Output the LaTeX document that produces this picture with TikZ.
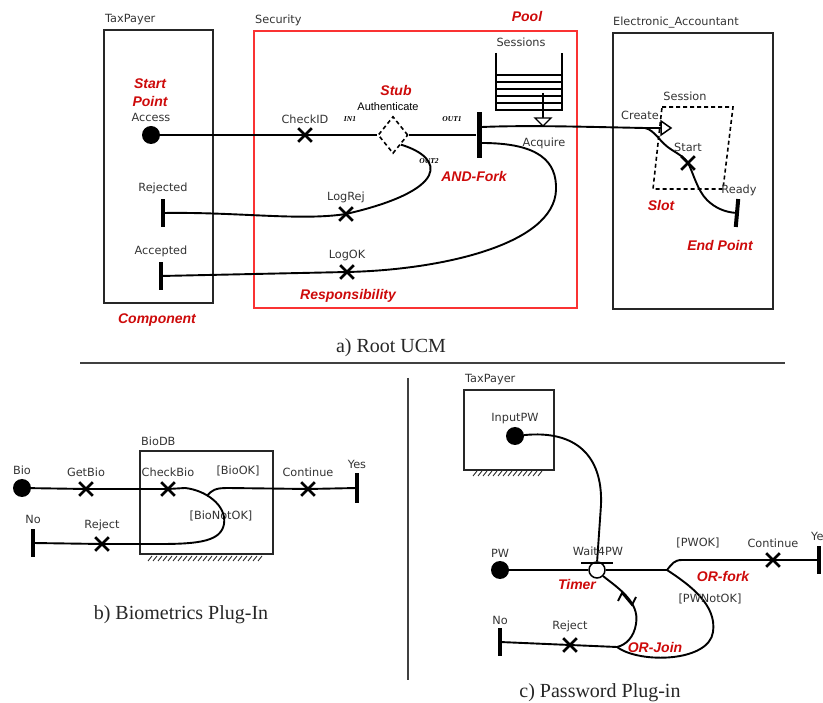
\documentclass[tikz,border=0pt]{standalone}
\usepackage{fontspec}
\setmainfont{DejaVu Sans}
\newfontfamily\tagfont{Liberation Sans}
\newfontfamily\capfont{Liberation Serif}
\usetikzlibrary{positioning,shapes.geometric,shapes.misc}
\definecolor{ucmred}{RGB}{205,10,10}
\definecolor{poolred}{RGB}{250,50,50}

\begin{document}
\begin{tikzpicture}[x=1pt,y=-1pt,
  lbl/.style={font=\fontsize{11.3}{12}\selectfont, text=black!80, inner sep=1pt},
  tag/.style={font=\tagfont\bfseries\itshape\fontsize{14}{18}\selectfont, text=ucmred, inner sep=1pt},
  pin/.style={font=\capfont\bfseries\itshape\fontsize{7.5}{8}\selectfont, inner sep=1pt},
  captext/.style={font=\capfont\fontsize{20}{22}\selectfont, text=black!85},
  comp/.style={draw=black!85, line width=1.7pt},
  ucm/.style={line width=1.9pt},
  startpt/.style={circle, fill, minimum size=18pt, inner sep=0pt},
  endbar/.style={fill, minimum width=4pt, minimum height=28pt, inner sep=0pt},
  resp/.style={cross out, draw, line width=2.7pt, minimum size=11pt, inner sep=0pt},
  dashline/.style={dash pattern=on 4pt off 3pt, line width=1.6pt},
  hatch/.style={line width=0.9pt, black!80}]
  \useasboundingbox (0,0) rectangle (823,703);

  % a) root map: components
  \draw[comp] (104,30) rectangle (213,303);
  \node[lbl, anchor=west] (taxpayerA) at (104,20) {TaxPayer};
  \draw[poolred, line width=1.7pt] (254,31) rectangle (577,308);
  \node[lbl, anchor=west] (security) at (254,20) {Security};
  \draw[comp] (613,33) rectangle (773,309);
  \node[lbl, anchor=west] (eacc) at (612,23) {Electronic\_Accountant};
  \node[tag] (pooltag) at (527,16) {Pool};

  % pool of sessions
  \draw[line width=1.6pt] (496,53) -- (496,110) -- (562,110) -- (562,53);
  \foreach \y in {75,82,89,96,103}
    \draw[line width=1.5pt] (496,\y) -- (562,\y);
  \node[lbl] (sessions) at (521,42) {Sessions};

  % slot
  \draw[dashline] (662,107) -- (733,107) -- (723,189) -- (653,189) -- cycle;
  \node[lbl] (session) at (685,96) {Session};

  % a) path elements
  \node[startpt] (access) at (151,135) {};
  \node[resp] (checkid) at (305,135) {};
  \node[diamond, draw, dashline, minimum width=30pt, minimum height=37pt, inner sep=0pt] (stub) at (393,135) {};
  \node[endbar, minimum width=5pt, minimum height=46pt] (andfork) at (479,135) {};
  \node[resp] (logrej) at (346,214) {};
  \node[endbar] (rejected) at (163,213) {};
  \node[resp] (logok) at (347,272) {};
  \node[endbar] (accepted) at (161,276) {};
  \node[resp] (startr) at (688,163) {};
  \node[endbar, rotate=-5] (ready) at (737,213) {};
  \coordinate (slotin) at (645,128);
  \coordinate (create) at (661,128);

  \draw[ucm] (access) -- (checkid.center) -- (stub.west);
  \draw[ucm] (stub.east) -- (andfork.west);
  \draw[ucm] (stub.south east) .. controls (445,158) and (450,190) .. (logrej.center)
    .. controls (300,221) and (240,212) .. (rejected);
  \draw[ucm] ([yshift=-8pt]andfork.east) .. controls (540,143) and (557,162) .. (556,190)
    .. controls (554,245) and (440,270) .. (logok.center) -- (accepted);
  \draw[ucm] ([yshift=8pt]andfork.east) .. controls (530,125) and (590,127) .. (slotin) -- (create);
  \draw[ucm] (slotin) .. controls (655,130) and (660,143) .. (672,150)
    .. controls (680,155) and (685,158) .. (startr.center)
    .. controls (693,172) and (697,190) .. (707,200)
    .. controls (715,208) and (725,212) .. (ready);
  \draw[line width=1.5pt, fill=white] (create) ++(0,-7) -- ++(10,7) -- ++(-10,7) -- cycle;
  \draw[line width=1.4pt] (543,93) -- (543,118);
  \draw[line width=1.4pt, fill=white] (535,118) -- (551,118) -- (543,126) -- cycle;

  % a) labels
  \node[tag, align=center] (starttag) at (150,93) {Start\\Point};
  \node[lbl, above=3pt of access] (accessl) {Access};
  \node[lbl, above=3pt of checkid] (checkidl) {CheckID};
  \node[pin] (in1) at (350,119) {IN1};
  \node[pin] (out1) at (452,119) {OUT1};
  \node[pin] (out2) at (429,161) {OUT2};
  \node[tag] (stubtag) at (396,90) {Stub};
  \node[font=\tagfont\fontsize{11}{12}\selectfont, inner sep=1pt] (authl) at (388,107) {Authenticate};
  \node[tag] (forktag) at (474,176) {AND-Fork};
  \node[lbl] (acquire) at (544,143) {Acquire};
  \node[lbl] (createl) at (640,115) {Create};
  \node[lbl, above=3pt of startr] (startl) {Start};
  \node[lbl] (readyl) at (739,190) {Ready};
  \node[tag] (slottag) at (661,205) {Slot};
  \node[tag] (endtag) at (720,246) {End Point};
  \node[lbl, above=4pt of rejected] (rejectedl) {Rejected};
  \node[lbl, above=3pt of logrej] (logrejl) {LogRej};
  \node[lbl, above=4pt of accepted] (acceptedl) {Accepted};
  \node[lbl, above=3pt of logok] (logokl) {LogOK};
  \node[tag] (resptag) at (348,296) {Responsibility};
  \node[tag] (comptag) at (157,320) {Component};
  \node[captext] (capa) at (391,348) {a) Root UCM};

  % separators
  \draw[black!75, line width=1.5pt] (80,363) -- (785,363);
  \draw[black!75, line width=1.3pt] (408,378) -- (408,680);

  % b) biometrics plug-in
  \draw[comp] (140,451) rectangle (273,554);
  \foreach \x in {148,153,...,258}
    \draw[hatch] (\x,561) -- (\x+4,556);
  \node[lbl, anchor=west] (biodb) at (140,441) {BioDB};
  \node[startpt] (bio) at (22,488) {};
  \node[resp] (getbio) at (86,489) {};
  \node[resp] (checkbio) at (168,489) {};
  \node[resp] (contb) at (308,489) {};
  \node[endbar, minimum height=30pt] (yesb) at (357,488) {};
  \node[resp] (rejb) at (102,544) {};
  \node[endbar] (nob) at (33,543) {};
  \coordinate (forkb) at (207,496);
  \node[lbl] (bionotok) at (221,516) {[BioNotOK]};
  \draw[ucm] (bio) -- (getbio.center) -- (checkbio.center) -- (185,488)
    .. controls (205,490) and (227,505) .. (224,524)
    .. controls (221,541) and (200,544) .. (160,544) -- (rejb.center) -- (nob);
  \draw[ucm] (forkb) .. controls (212,490) and (215,488) .. (228,488) -- (contb.center) -- (yesb);
  \node[lbl, above=3pt of bio] (biol) {Bio};
  \node[lbl, above=4pt of getbio] (getbiol) {GetBio};
  \node[lbl, above=4pt of checkbio] (checkbiol) {CheckBio};
  \node[lbl] (biook) at (238,471) {[BioOK]};
  \node[lbl, above=4pt of contb] (contbl) {Continue};
  \node[lbl, above=3pt of yesb] (yesbl) {Yes};
  \node[lbl, above=4pt of nob] (nobl) {No};
  \node[lbl, above=5pt of rejb] (rejbl) {Reject};
  \node[captext] (capb) at (181,615) {b) Biometrics Plug-In};

  % c) password plug-in
  \draw[comp] (464,390) rectangle (554,470);
  \foreach \x in {473,478,...,538}
    \draw[hatch] (\x,476) -- (\x+4,471);
  \node[lbl, anchor=west] (taxpayerC) at (464,380) {TaxPayer};
  \node[startpt] (inputpw) at (515,436) {};
  \node[startpt] (pw) at (500,570) {};
  \node[circle, draw, fill=white, line width=1.5pt, minimum size=16pt, inner sep=0pt] (timer) at (597,570) {};
  \node[endbar, minimum width=32pt, minimum height=2.8pt] (timerbar) at (597,563) {};
  \coordinate (orfork) at (667,570);
  \coordinate (orjoin) at (617,647);
  \node[resp] (contc) at (773,560) {};
  \node[endbar] (yesc) at (819,560) {};
  \node[resp] (rejc) at (570,645) {};
  \node[endbar] (noc) at (500,642) {};

  \draw[ucm] (inputpw) .. controls (575,430) and (603,455) .. (601,505) -- (timerbar);
  \draw[ucm] (pw) -- (timer) -- (orfork);
  \draw[ucm] (orfork) .. controls (672,564) and (674,560) .. (682,560) -- (contc.center) -- (yesc);
  \draw[ucm] (orfork) .. controls (690,585) and (717,605) .. (713,632)
    .. controls (709,662) and (640,664) .. (orjoin);
  \draw[ucm] (timer.south east) .. controls (618,588) and (640,602) .. (636,624)
    .. controls (634,637) and (626,645) .. (orjoin);
  \draw[line width=1.8pt] (618,601) -- (622,593) -- (632,605) -- (636,597);
  \draw[ucm] (orjoin) -- (rejc.center) -- (noc);

  \node[lbl, above=2pt of inputpw] (inputpwl) {InputPW};
  \node[lbl, above=2pt of pw] (pwl) {PW};
  \node[lbl] (wait4pw) at (598,551) {Wait4PW};
  \node[lbl] (pwok) at (698,543) {[PWOK]};
  \node[lbl, above=4pt of contc] (contcl) {Continue};
  \node[lbl, anchor=west] (yescl) at (810,536) {Yes};
  \node[lbl, above=2pt of noc] (nocl) {No};
  \node[lbl, above=5pt of rejc] (rejcl) {Reject};
  \node[tag] (timertag) at (577,584) {Timer};
  \node[tag] (orforktag) at (723,576) {OR-fork};
  \node[lbl] (pwnotok) at (710,599) {[PWNotOK]};
  \node[tag] (orjointag) at (655,647) {OR-Join};
  \node[captext] (capc) at (600,693) {c) Password Plug-in};
\end{tikzpicture}
\end{document}
